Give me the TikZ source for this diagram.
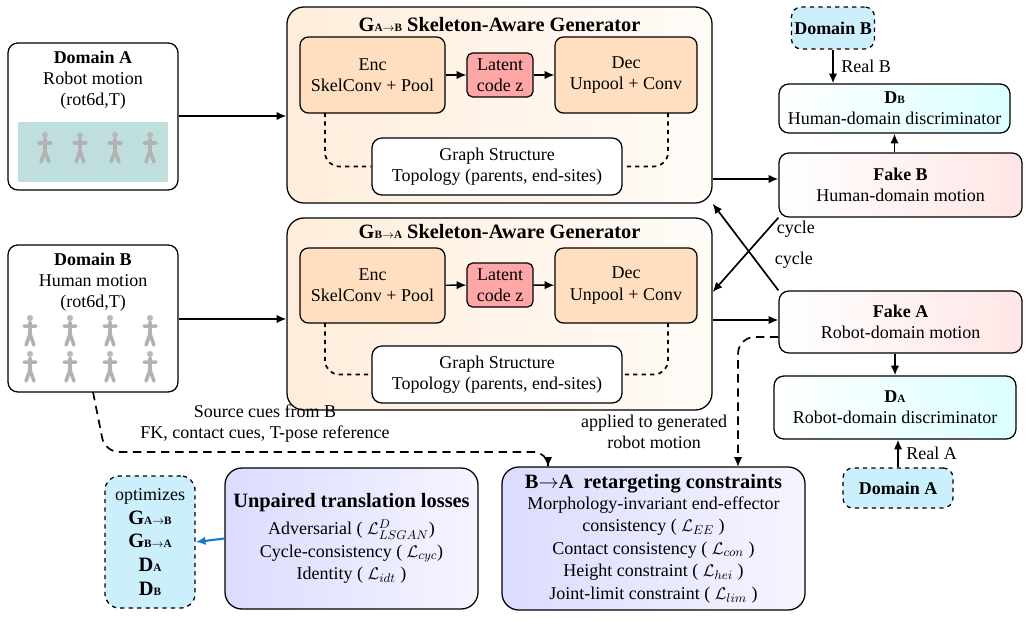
\documentclass[tikz,border=0pt]{standalone}
\usepackage{fontspec}
\setmainfont{Liberation Serif}
\usetikzlibrary{arrows.meta}
\tikzstyle{box} = [draw=black, rounded corners=7pt, line width=0.9pt, align=center, inner sep=2pt]
\tikzstyle{gen} = [box, rounded corners=12pt, left color=orange!14, right color=orange!3]
\tikzstyle{block} = [box, fill=orange!25, rounded corners=6pt]
\tikzstyle{fake} = [box, left color=white, right color=red!10]
\tikzstyle{disc} = [box, left color=white, right color=cyan!14]
\tikzstyle{dom} = [box, dashed, fill=cyan!20]
\tikzstyle{loss} = [box, rounded corners=12pt, left color=blue!14, right color=blue!4]
\tikzstyle{arr} = [-{Latex[length=7pt,width=6pt]}, line width=1.2pt]
\tikzstyle{darr} = [arr, dashed, dash pattern=on 6pt off 4pt]
\newcommand{\sub}[1]{{\footnotesize #1}}
\newcommand{\titlefont}{\fontsize{14.5}{17}\selectfont}
\newcommand{\person}[2]{\fill[gray!55] (#1,#2) circle (3); \draw[gray!60, line width=2.5pt, line cap=round] (#1,#2+4) -- (#1,#2+16) (#1-6,#2+8) -- (#1+6,#2+8) (#1,#2+16) -- (#1-4,#2+27) (#1,#2+16) -- (#1+4,#2+27);}

\begin{document}
\begin{tikzpicture}[x=0.025cm, y=-0.025cm, font=\fontsize{12.8}{15}\selectfont]
\useasboundingbox (0,0) rectangle (1031,620);
% inputs
\node[box, minimum width=170*0.025cm, minimum height=147*0.025cm] (domA) at (93,116.5) {};
\node[align=center, anchor=north] at (93,46) {\textbf{Domain A}\\Robot motion\\(rot6d,T)};
\fill[teal!25] (18,122) rectangle (168,182);
\foreach \i in {45,80,115,150} {\person{\i}{135}}
\node[box, minimum width=170*0.025cm, minimum height=147*0.025cm] (domB) at (93,318.5) {};
\node[align=center, anchor=north] at (93,248) {\textbf{Domain B}\\Human motion\\(rot6d,T)};
\foreach \i in {30,70,110,150} {\person{\i}{318} \person{\i}{354}}
% generator A->B
\node[gen, minimum width=425*0.025cm, minimum height=196*0.025cm] (gAB) at (499.5,105) {};
\node[font=\titlefont] at (499.5,25) {\textbf{G\sub{A$\rightarrow$B} Skeleton-Aware Generator}};
\node[block, minimum width=145*0.025cm, minimum height=76*0.025cm] (encA) at (372.5,75) {Enc\\SkelConv + Pool};
\node[box, fill=red!35, rounded corners=4pt, minimum width=66*0.025cm, minimum height=44*0.025cm] (latA) at (500,75) {Latent\\code z};
\node[block, minimum width=142*0.025cm, minimum height=76*0.025cm] (decA) at (626,75) {Dec\\Unpool + Conv};
\node[box, fill=white, minimum width=250*0.025cm, minimum height=57*0.025cm] (graA) at (497,166.5) {Graph Structure\\Topology (parents, end-sites)};
\draw[arr, line width=1pt] (encA) -- (latA);
\draw[arr, line width=1pt] (latA) -- (decA);
\draw[dashed, line width=1.2pt, rounded corners=10pt] (325,113) |- (graA.west);
\draw[dashed, line width=1.2pt, rounded corners=10pt] (668,113) |- (graA.east);
% generator B->A
\node[gen, minimum width=425*0.025cm, minimum height=192*0.025cm] (gBA) at (499.5,314) {};
\node[font=\titlefont] at (499.5,232) {\textbf{G\sub{B$\rightarrow$A} Skeleton-Aware Generator}};
\node[block, minimum width=145*0.025cm, minimum height=75*0.025cm] (encB) at (372.5,285.5) {Enc\\SkelConv + Pool};
\node[box, fill=red!35, rounded corners=4pt, minimum width=66*0.025cm, minimum height=44*0.025cm] (latB) at (500,285) {Latent\\code z};
\node[block, minimum width=142*0.025cm, minimum height=75*0.025cm] (decB) at (626,285.5) {Dec\\Unpool + Conv};
\node[box, fill=white, minimum width=250*0.025cm, minimum height=57*0.025cm] (graB) at (497,374.5) {Graph Structure\\Topology (parents, end-sites)};
\draw[arr, line width=1pt] (encB) -- (latB);
\draw[arr, line width=1pt] (latB) -- (decB);
\draw[dashed, line width=1.2pt, rounded corners=10pt] (325,323) |- (graB.west);
\draw[dashed, line width=1.2pt, rounded corners=10pt] (668,323) |- (graB.east);
% right column
\node[dom, minimum width=80*0.025cm, minimum height=42*0.025cm] (realB) at (833,28) {\textbf{Domain B}};
\node[disc, minimum width=231*0.025cm, minimum height=49*0.025cm] (dB) at (894.5,108.5) {\textbf{D\sub{B}}\\Human-domain discriminator};
\node[fake, minimum width=243*0.025cm, minimum height=64*0.025cm] (fakeB) at (900.5,185) {\textbf{Fake B}\\Human-domain motion};
\node[fake, minimum width=243*0.025cm, minimum height=62*0.025cm] (fakeA) at (900.5,322) {\textbf{Fake A}\\Robot-domain motion};
\node[disc, minimum width=242*0.025cm, minimum height=63*0.025cm] (dA) at (895,407.5) {\textbf{D\sub{A}}\\Robot-domain discriminator};
\node[dom, minimum width=110*0.025cm, minimum height=40*0.025cm] (realA) at (898,488) {\textbf{Domain A}};
% losses
\node[dom, rounded corners=10pt, minimum width=90*0.025cm, minimum height=132*0.025cm, font=\titlefont] (opt) at (150,542) {\fontsize{12.8}{15}\selectfont optimizes\\\textbf{G\sub{A$\rightarrow$B}}\\\textbf{G\sub{B$\rightarrow$A}}\\\textbf{D\sub{A}}\\\textbf{D\sub{B}}};
\node[loss, minimum width=253*0.025cm, minimum height=141*0.025cm] (unp) at (351.5,538.5) {{\titlefont\textbf{Unpaired translation losses}}\\[4pt]Adversarial ( $\mathcal{L}^{D}_{LSGAN}$)\\[1pt]Cycle-consistency ( $\mathcal{L}_{cyc}$)\\[1pt]Identity ( $\mathcal{L}_{idt}$ )};
\node[loss, minimum width=303*0.025cm, minimum height=143*0.025cm] (cons) at (653.5,538.5) {{\titlefont\textbf{B$\rightarrow$A\ \ retargeting constraints}}\\Morphology-invariant end-effector\\[1pt]consistency ( $\mathcal{L}_{EE}$ )\\[1pt]Contact consistency ( $\mathcal{L}_{con}$ )\\[1pt]Height constraint ( $\mathcal{L}_{hei}$ )\\[1pt]Joint-limit constraint ( $\mathcal{L}_{lim}$ )};
% connectors
\draw[arr] (domA.east |- 0,116) -- (gAB.west |- 0,116);
\draw[arr] (domB.east |- 0,319) -- (gBA.west |- 0,319);
\draw[arr] (gAB.east |- 0,179) -- (fakeB.west |- 0,179);
\draw[arr] (gBA.east |- 0,320) -- (fakeA.west |- 0,320);
\draw[arr] (fakeB.south west) -- (gBA.east |- 0,292) node[pos=0.15, right, xshift=2pt] {cycle};
\draw[arr] (fakeA.north west) -- (gAB.south east) node[pos=0.35, right, xshift=10pt] {cycle};
\draw[arr] (fakeB.north -| dB) -- (dB.south);
\draw[arr] (realB.south) -- (realB.south |- dB.north) node[midway, right, xshift=2pt] {Real B};
\draw[arr] (fakeA.south -| dA) -- (dA.north);
\draw[arr] (realA.north) -- (dA.south -| realA) node[midway, right, xshift=2pt] {Real A};
\draw[darr, rounded corners=10pt] (domB.south |- 0,392) -- (105,452) -- (548,452) -- (548,467);
\node[align=center] at (265,423.5) {Source cues from B\\FK, contact cues, T-pose reference};
\draw[darr, rounded corners=12pt] (fakeA.west |- 0,337) -- (738,337) -- (738,467);
\node[align=center, anchor=east] at (732,432) {applied to generated\\robot motion};
\draw[arr, line width=1.5pt, color=cyan!60!blue] (unp.west) -- (opt.east);
\end{tikzpicture}
\end{document}
